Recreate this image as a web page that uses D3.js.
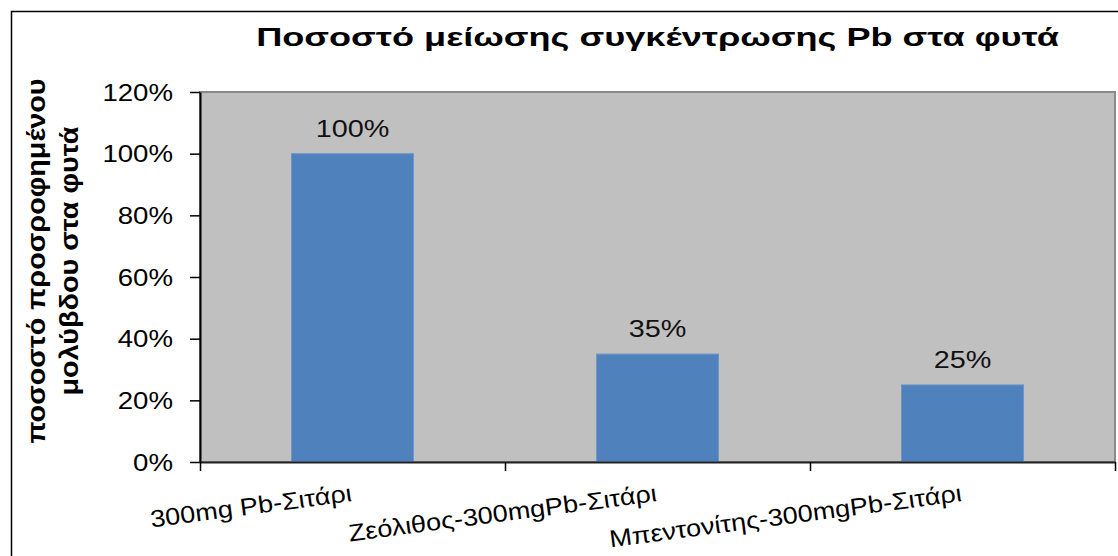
<!DOCTYPE html>
<html>
<head>
<meta charset="utf-8">
<script src="https://cdn.jsdelivr.net/npm/d3@7"></script>
<style>
  body { margin: 0; background: #fff; }
  text { font-family: "Liberation Sans", Arial, sans-serif; }
</style>
</head>
<body>
<div id="chart"></div>
<script>
const categories = ["300mg Pb-Σιτάρι", "Ζεόλιθος-300mgPb-Σιτάρι", "Μπεντονίτης-300mgPb-Σιτάρι"];
const values = [1.0, 0.35, 0.25];
const yTicks = [0, 0.2, 0.4, 0.6, 0.8, 1.0, 1.2];
const title = "Ποσοστό μείωσης συγκέντρωσης Pb στα φυτά";
const yTitle = ["ποσοστό προσροφημένου", "μολύβδου στα φυτά"];

const W = 1118, H = 556;
const plot = { left: 200, right: 1115, top: 92, bottom: 462 };
const stretch = 1.2; // text in the original looks widened

const svg = d3.select("#chart").append("svg")
  .attr("width", W).attr("height", H);

// outer chart border (only top / left visible)
svg.append("rect")
  .attr("x", 11.5).attr("y", 11.5)
  .attr("width", W + 20).attr("height", H + 20)
  .attr("fill", "#fff").attr("stroke", "#000").attr("stroke-width", 1.5);

const x = d3.scaleBand().domain(categories).range([plot.left, plot.right]).padding(0);
const xEdge = d3.scaleLinear().domain([0, categories.length]).range([plot.left, plot.right]);
const y = d3.scaleLinear().domain([0, 1.2]).range([plot.bottom, plot.top]);

// plot area
svg.append("rect")
  .attr("x", plot.left).attr("y", plot.top)
  .attr("width", plot.right - plot.left).attr("height", plot.bottom - plot.top)
  .attr("fill", "#c0c0c0").attr("stroke", "#8a8a8a").attr("stroke-width", 2);

// bars
const bw = x.bandwidth() * 0.4;
svg.selectAll(".bar")
  .data(values)
  .enter().append("rect")
  .attr("class", "bar")
  .attr("x", (d, i) => x(categories[i]) + (x.bandwidth() - bw) / 2)
  .attr("y", d => y(d))
  .attr("width", bw)
  .attr("height", d => y(0) - y(d))
  .attr("fill", "#4f81bd")
  .attr("stroke", "#6f96c8").attr("stroke-width", 1);

// value labels
svg.selectAll(".val")
  .data(values)
  .enter().append("text")
  .attr("class", "val")
  .attr("transform", (d, i) => `translate(${x(categories[i]) + x.bandwidth() / 2},${y(d) - 17}) scale(${stretch},1)`)
  .attr("text-anchor", "middle")
  .style("font-size", "24px")
  .attr("fill", "#111")
  .text(d => Math.round(d * 100) + "%");

// y axis
const gy = svg.append("g")
  .attr("transform", `translate(${plot.left},0)`)
  .call(d3.axisLeft(y).tickValues(yTicks).tickFormat(d3.format(".0%")).tickSize(10).tickSizeOuter(0));
gy.select(".domain").attr("stroke", "#000").attr("stroke-width", 2);
gy.selectAll(".tick line").attr("stroke", "#000").attr("stroke-width", 1.5);
gy.selectAll(".tick text")
  .attr("x", 0).attr("dy", "0.35em")
  .attr("transform", `translate(-27,0) scale(${stretch},1)`)
  .style("font-size", "23px")
  .style("font-family", '"Liberation Sans", Arial, sans-serif')
  .attr("fill", "#000");

// x axis: line + ticks at category edges
const gx = svg.append("g")
  .attr("transform", `translate(0,${plot.bottom})`)
  .call(d3.axisBottom(xEdge).ticks(categories.length).tickFormat("").tickSize(9).tickSizeOuter(0));
gx.select(".domain").attr("stroke", "#222").attr("stroke-width", 2);
gx.selectAll(".tick line").attr("stroke", "#000").attr("stroke-width", 1.5);

// x labels, rotated
svg.selectAll(".xlab")
  .data(categories)
  .enter().append("text")
  .attr("class", "xlab")
  .attr("transform", d => `translate(${x(d) + x.bandwidth() / 2},${plot.bottom + 39}) rotate(-7.5) scale(1.13,1)`)
  .attr("text-anchor", "end")
  .style("font-size", "24px")
  .attr("fill", "#000")
  .text(d => d);

// title
svg.append("text")
  .attr("transform", `translate(${(plot.left + plot.right) / 2},46) scale(1.39,1)`)
  .attr("text-anchor", "middle")
  .style("font-size", "26px")
  .style("font-weight", "bold")
  .attr("fill", "#000")
  .text(title);

// y axis title
svg.selectAll(".ytitle")
  .data(yTitle)
  .enter().append("text")
  .attr("class", "ytitle")
  .attr("transform", (d, i) => `translate(${45 + i * 33},261) rotate(-90) scale(1.25,1.15)`)
  .attr("text-anchor", "middle")
  .style("font-size", "23px")
  .style("font-weight", "bold")
  .attr("fill", "#000")
  .text(d => d);
</script>
</body>
</html>
